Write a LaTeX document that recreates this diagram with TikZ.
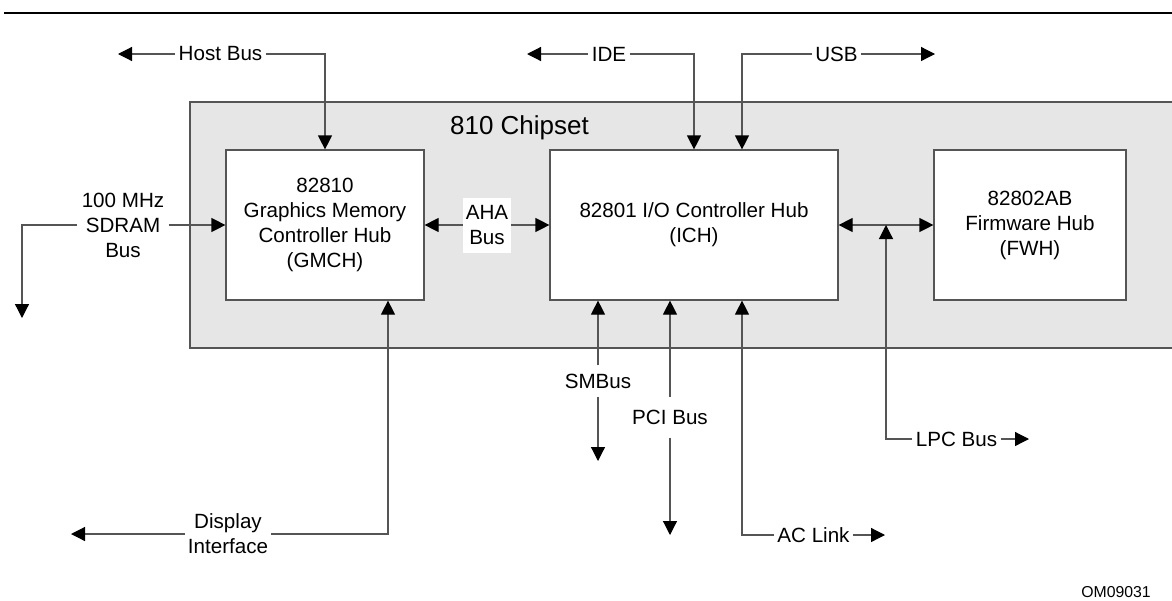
\documentclass[tikz,border=0pt]{standalone}
\usepackage{fontspec}
\setmainfont{Liberation Sans}
\usetikzlibrary{arrows.meta,positioning}
\definecolor{chipgray}{HTML}{E6E6E6}
\definecolor{wiregray}{HTML}{555555}

\begin{document}
\begin{tikzpicture}[
    x=.5pt, y=-.5pt,
    font=\fontsize{10.3}{12.5}\selectfont,
    >={Triangle[length=7pt, width=7pt, color=black]},
    hub/.style={draw=wiregray, fill=white, line width=.6pt, minimum height=75pt,
      inner sep=0pt, align=center},
    buslabel/.style={inner xsep=1.5pt, inner ysep=1pt, align=center},
    vlabel/.style={buslabel, inner ysep=4pt},
    wire/.style={draw=wiregray, line width=.6pt}
  ]
  \useasboundingbox (0,0) rectangle (1172,600);
  \draw[line width=1pt] (4,13) -- (1172,13);

  % chipset area, open to the right
  \fill[chipgray] (190,102) rectangle (1172,348);
  \draw[wire] (1172,102) -- (190,102) -- (190,348) -- (1172,348);
  \node[font=\fontsize{13}{15}\selectfont] (chipset) at (519.5,128) {810 Chipset};

  \node[hub, minimum width=99pt] (gmch) at (325,225)
    {82810\\Graphics Memory\\Controller Hub\\(GMCH)};
  \node[hub, minimum width=144pt] (ich) at (694,225)
    {82801 I/O Controller Hub\\(ICH)};
  \node[hub, minimum width=96pt] (fwh) at (1030,225)
    {82802AB\\Firmware Hub\\(FWH)};

  % buses on top
  \coordinate (hostend) at (118,54);
  \node[buslabel] (hostbus) at (220.5,54) {Host Bus};
  \draw[wire,->] (hostbus.west) -- (hostend);
  \draw[wire,->] (hostbus.east) -| (gmch.north);

  \coordinate (ideend) at (527,54);
  \node[buslabel] (ide) at (609,54) {IDE};
  \draw[wire,->] (ide.west) -- (ideend);
  \draw[wire,->] (ide.east) -| (ich.north);

  \coordinate (usbend) at (935,54);
  \node[buslabel] (usb) at (836.5,54) {USB};
  \draw[wire,->] (usb.east) -- (usbend);
  \draw[wire,->] (usb.west) -| ([xshift=24pt]ich.north);

  % memory and hub links
  \coordinate (sdramend) at (22,318);
  \node[buslabel, inner xsep=2pt] (sdram) at (123,225) {100 MHz\\SDRAM\\Bus};
  \draw[wire,->] (sdram.east) -- (gmch.west);
  \draw[wire,->] (sdram.west) -| (sdramend);

  \node[buslabel, fill=white, inner sep=0pt, minimum width=24pt,
    minimum height=27.5pt] (aha) at (487,225) {AHA\\Bus};
  \draw[wire,->] (aha.west) -- (gmch.east);
  \draw[wire,->] (aha.east) -- (ich.west);

  \draw[wire,<->] (ich.east) -- (fwh.west);
  \coordinate (lpctap) at (886,225);
  \coordinate (lpcend) at (1029,439);
  \node[buslabel] (lpc) at (956.5,439) {LPC Bus};
  \draw[wire,->] (lpc.west) -| (lpctap);
  \draw[wire,->] (lpc.east) -- (lpcend);

  % buses below
  \coordinate (smbend) at (598,461);
  \node[vlabel] (smbus) at (598,381) {SMBus};
  \draw[wire,->] (smbus.north) -- ([xshift=-48pt]ich.south);
  \draw[wire,->] (smbus.south) -- (smbend);

  \coordinate (pciend) at (670,535);
  \node[vlabel, inner ysep=6.4pt] (pci) at (670,417) {PCI Bus};
  \draw[wire,->] (pci.north) -- ([xshift=-12pt]ich.south);
  \draw[wire,->] (pci.south) -- (pciend);

  \coordinate (acend) at (885,535);
  \node[buslabel] (aclink) at (813.5,535) {AC Link};
  \draw[wire,->] (aclink.west) -| ([xshift=24pt]ich.south);
  \draw[wire,->] (aclink.east) -- (acend);

  \coordinate (dispend) at (71,534);
  \node[buslabel] (display) at (228,534) {Display\\Interface};
  \draw[wire,->] (display.west) -- (dispend);
  \draw[wire,->] (display.east) -| ([xshift=31.5pt]gmch.south);

  \node[font=\fontsize{7.9}{9}\selectfont] (omnum) at (1116,592) {OM09031};
\end{tikzpicture}
\end{document}
